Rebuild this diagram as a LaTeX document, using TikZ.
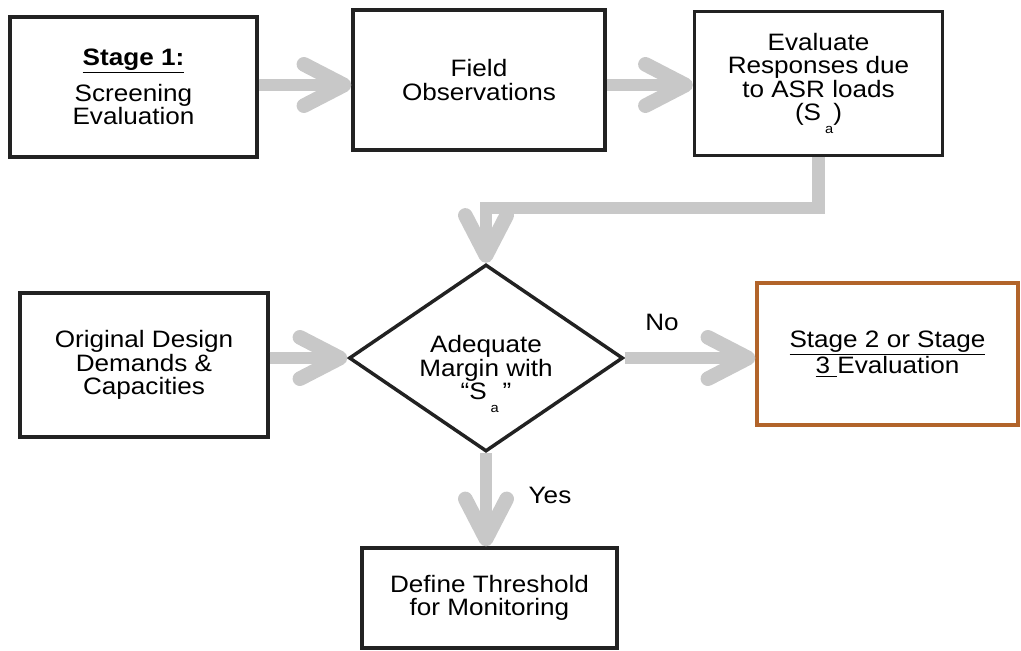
\documentclass[tikz,border=0pt]{standalone}
\usepackage{fontspec}
\setmainfont{Liberation Sans}[FakeStretch=1.1]
\usetikzlibrary{arrows.meta,shapes.geometric}
\definecolor{arrowgray}{RGB}{200,200,200}
\definecolor{boxline}{RGB}{34,34,34}
\definecolor{rustline}{RGB}{178,100,42}
\newcommand{\subA}{\raisebox{-0.55em}{\fontsize{10}{10}\selectfont a}}
\tikzset{
  box/.style={draw=boxline, line width=2.6pt, fill=white, rectangle, align=center,
    inner sep=2pt, font=\fontsize{17.8}{17.5}\selectfont},
  decision/.style={draw=boxline, line width=2.6pt, fill=white, diamond, inner sep=0pt},
  txt/.style={align=center, inner sep=0pt, font=\fontsize{17.8}{17.5}\selectfont},
  garrow/.style={draw=arrowgray, line width=9.5pt, line join=miter,
    -{Straight Barb[length=30pt,width=31pt,line width=11pt,round]}},
}
\begin{document}
\begin{tikzpicture}[x=0.75pt,y=-0.75pt]
\useasboundingbox (0,0) rectangle (1021,650);
% boxes
\node[box, minimum width=185.25pt, minimum height=105pt] (b1) at (133.5,87)
  {\underline{\textbf{Stage 1:}}\\[7pt] Screening\\ Evaluation};
\node[box, minimum width=189pt, minimum height=105pt] (b2) at (479,80)
  {Field\\ Observations};
\node[box, minimum width=186pt, minimum height=108pt] (b3) at (818.5,83.5)
  {Evaluate\\ Responses due\\ to ASR loads\\ (S\,\subA)};
\node[box, minimum width=186pt, minimum height=108pt] (b4) at (144,365)
  {Original Design\\ Demands \&\\ Capacities};
\node[decision, minimum width=205.5pt, minimum height=140.25pt] (dec) at (486,358) {};
\node[txt] (dectext) at (486,374) {Adequate\\ Margin with\\ “S\,\subA\,”};
\node[box, draw=rustline, minimum width=195.75pt, minimum height=106.5pt] (b5) at (887.5,354)
  {\underline{Stage 2 or Stage}\\ \underline{3 }Evaluation};
\node[box, minimum width=191.25pt, minimum height=75pt] (b6) at (489.5,598)
  {Define Threshold\\ for Monitoring};
% labels
\node[txt] (no) at (662,322) {No};
\node[txt] (yes) at (550,495) {Yes};
% connectors
\coordinate (r1) at (0,85);
\coordinate (turn) at (486,208);
\draw[garrow] (b1.east |- r1) -- (b2.west |- r1);
\draw[garrow] (b2.east |- r1) -- (b3.west |- r1);
\draw[garrow] (b3.south) |- (turn) -- (dec.north);
\draw[garrow] (b4.east |- dec.west) -- (dec.west);
\draw[garrow] (dec.east) -- (b5.west |- dec.east);
\draw[garrow] (dec.south) -- (dec.south |- b6.north);
\end{tikzpicture}
\end{document}
